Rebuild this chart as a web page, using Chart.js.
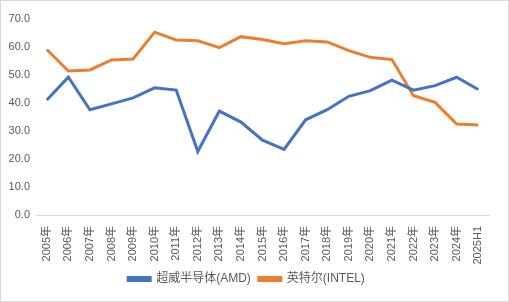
<!DOCTYPE html>
<html>
<head>
<meta charset="utf-8">
<script src="https://cdn.jsdelivr.net/npm/chart.js@4/dist/chart.umd.min.js"></script>
<style>
  html, body { margin: 0; padding: 0; background: #fff; }
  #wrap { position: relative; width: 507px; height: 300px; border: 1px solid #d9d9d9; }
</style>
</head>
<body>
<div id="wrap"><canvas id="shareChart"></canvas></div>
<script>
// 毛利率对比 AMD vs INTEL
const years = ["2005年", "2006年", "2007年", "2008年", "2009年", "2010年", "2011年", "2012年", "2013年", "2014年",
  "2015年", "2016年", "2017年", "2018年", "2019年", "2020年", "2021年", "2022年", "2023年", "2024年", "2025H1"]
const amdValues = [41.1, 49.2, 37.6, 39.7, 41.8, 45.4, 44.6, 22.7, 37.1, 33.2,
  26.7, 23.4, 34.0, 37.6, 42.4, 44.4, 48.2, 44.6, 46.2, 49.2, 44.8]
const intelValues = [59.1, 51.4, 51.8, 55.4, 55.7, 65.3, 62.5, 62.2, 59.8, 63.7,
  62.7, 61.2, 62.2, 61.8, 58.7, 56.3, 55.5, 42.6, 40.2, 32.5, 32.1]
const yTicks = [0, 10, 20, 30, 40, 50, 60, 70]

const fontFamily = "'Liberation Sans', 'Noto Sans CJK SC', sans-serif"
const ctx = document.getElementById("shareChart")

new Chart(ctx, {
  type: "line",
  data: {
    labels: years,
    datasets: [
      {
        label: "超威半导体(AMD)",
        data: amdValues,
        borderColor: "#4472C4",
        backgroundColor: "#4472C4",
        borderWidth: 3,
        pointRadius: 0,
        tension: 0,
      },
      {
        label: "英特尔(INTEL)",
        data: intelValues,
        borderColor: "#ED7D31",
        backgroundColor: "#ED7D31",
        borderWidth: 3,
        pointRadius: 0,
        tension: 0,
      },
    ],
  },
  options: {
    responsive: true,
    maintainAspectRatio: false,
    animation: false,
    layout: { padding: { left: 3, right: 19, top: 18, bottom: 6 } },
    plugins: {
      legend: {
        position: "bottom",
        labels: {
          boxWidth: 22,
          boxHeight: 3,
          padding: 8,
          color: "#595959",
          font: { family: fontFamily, size: 12 },
        },
      },
      tooltip: { enabled: false },
    },
    scales: {
      x: {
        offset: true,
        grid: { display: false, drawTicks: false },
        border: { display: true, color: "#d9d9d9", width: 1 },
        afterFit: (axis) => {
          axis.height = 50
        },
        ticks: {
          color: "#595959",
          minRotation: 90,
          maxRotation: 90,
          autoSkip: false,
          padding: 11,
          font: { family: fontFamily, size: 11 },
        },
      },
      y: {
        min: 0,
        max: 70,
        grid: { display: false, drawTicks: false },
        border: { display: false },
        afterFit: (axis) => {
          axis.width = 32
        },
        afterBuildTicks: (axis) => {
          axis.ticks = yTicks.map((v) => ({ value: v }))
        },
        ticks: {
          color: "#595959",
          padding: 6,
          font: { family: fontFamily, size: 11 },
          callback: (value) => value.toFixed(1),
        },
      },
    },
  },
})
</script>
</body>
</html>
